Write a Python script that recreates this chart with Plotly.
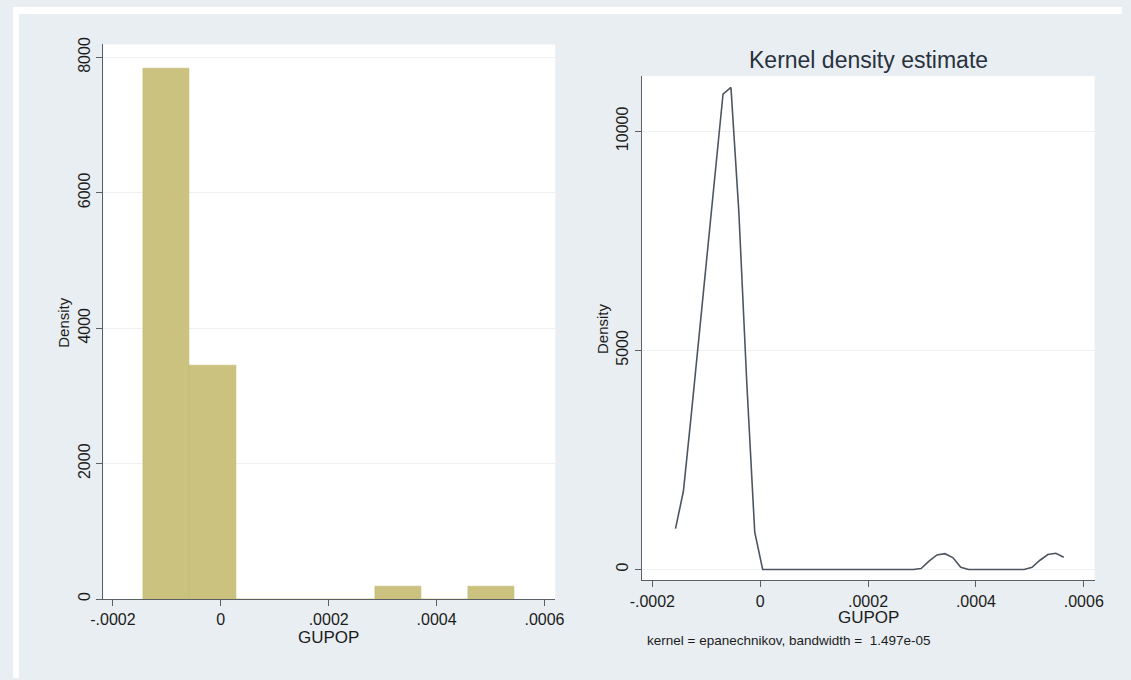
import plotly.graph_objects as go

# Histogram of GUPOP (density scale)
bin_lefts = [-1.44e-4, -0.58e-4, 0.28e-4, 1.14e-4, 2.00e-4, 2.86e-4, 3.72e-4, 4.58e-4]
bin_width = 0.86e-4
bin_density = [7840, 3455, 0, 0, 0, 190, 0, 190]

# Kernel density estimate of GUPOP (epanechnikov, 50 evaluation points)
kde_x = [-1.570e-4, -1.423e-4, -1.276e-4, -1.129e-4, -0.982e-4, -0.835e-4, -0.689e-4,
         -0.542e-4, -0.395e-4, -0.248e-4, -0.101e-4, 0.046e-4, 0.193e-4, 0.340e-4,
         0.487e-4, 0.634e-4, 0.781e-4, 0.927e-4, 1.074e-4, 1.221e-4, 1.368e-4,
         1.515e-4, 1.662e-4, 1.809e-4, 1.956e-4, 2.103e-4, 2.250e-4, 2.397e-4,
         2.544e-4, 2.690e-4, 2.837e-4, 2.984e-4, 3.131e-4, 3.278e-4, 3.425e-4,
         3.572e-4, 3.719e-4, 3.866e-4, 4.013e-4, 4.160e-4, 4.307e-4, 4.453e-4,
         4.600e-4, 4.747e-4, 4.894e-4, 5.041e-4, 5.188e-4, 5.335e-4, 5.482e-4,
         5.629e-4]
kde_y = [930, 1790, 3550, 5400, 7250, 9050, 10850,
         11000, 8150, 4250, 850, 0, 0, 0,
         0, 0, 0, 0, 0, 0, 0,
         0, 0, 0, 0, 0, 0, 0,
         0, 0, 0, 20, 190, 330, 360,
         270, 50, 0, 0, 0, 0, 0,
         0, 0, 0, 50, 210, 340, 370,
         280]

x_ticks = [-0.0002, 0, 0.0002, 0.0004, 0.0006]
x_tick_text = ["-.0002", "0", ".0002", ".0004", ".0006"]
hist_y_ticks = [0, 2000, 4000, 6000, 8000]
hist_y_text = ["0", "2000", "4000", "6000", "8000"]
kde_y_ticks = [0, 5000, 10000]
kde_y_text = ["0", "5000", "10000"]

W, H = 1131, 680
BG = "#e8eef1"
AXIS = "#5b6066"
GRID = "#edf1f3"
TXT = "#1c1c1c"
FONT = "Liberation Sans, Arial, sans-serif"


def px(x):
    return x / W


def py(y):
    return 1 - y / H


fig = go.Figure()

fig.add_trace(go.Bar(
    x=bin_lefts, y=bin_density, width=bin_width, offset=0,
    marker=dict(color="#cbc27f", line=dict(color="#c2b872", width=0.6)),
    xaxis="x", yaxis="y", showlegend=False,
))

fig.add_trace(go.Scatter(
    x=kde_x, y=kde_y, mode="lines",
    line=dict(color="#4d5660", width=1.6),
    xaxis="x2", yaxis="y2", showlegend=False,
))

axis_common = dict(
    showline=True, linecolor=AXIS, linewidth=1,
    ticks="outside", ticklen=6, tickcolor=AXIS, tickwidth=1,
    tickfont=dict(family=FONT, size=16, color=TXT),
    zeroline=False,
)

fig.update_layout(
    width=W, height=H,
    margin=dict(l=0, r=0, t=0, b=0),
    paper_bgcolor=BG, plot_bgcolor="white",
    font=dict(family=FONT, color=TXT),
    bargap=0,
    xaxis=dict(domain=[px(92), px(553)], range=[-2.18e-4, 6.2e-4],
               tickvals=x_ticks, ticktext=x_tick_text, showgrid=False,
               anchor="y", **axis_common),
    yaxis=dict(domain=[py(600), py(38)], range=[0, 8190],
               tickvals=hist_y_ticks, ticktext=hist_y_text, tickangle=-90,
               showgrid=True, gridcolor=GRID, gridwidth=1,
               anchor="x", **axis_common),
    xaxis2=dict(domain=[px(641), px(1103)], range=[-2.2e-4, 6.2e-4],
                tickvals=x_ticks, ticktext=x_tick_text, showgrid=False,
                anchor="y2", **axis_common),
    yaxis2=dict(domain=[py(581), py(70)], range=[-248, 11260],
                tickvals=kde_y_ticks, ticktext=kde_y_text, tickangle=-90,
                showgrid=True, gridcolor=GRID, gridwidth=1,
                anchor="x2", **axis_common),
)

# White margin strips along the top and left edges of the page
fig.add_shape(type="rect", xref="paper", yref="paper",
              x0=0, x1=1, y0=py(7), y1=1, fillcolor="white",
              line=dict(width=0), layer="below")
fig.add_shape(type="rect", xref="paper", yref="paper",
              x0=0, x1=px(6), y0=0, y1=1, fillcolor="white",
              line=dict(width=0), layer="below")

annotations = [
    # histogram panel titles
    dict(text="GUPOP", x=px(322), y=py(639), size=17),
    dict(text="Density", x=px(52), y=py(319), size=15, angle=-90),
    # kernel density panel titles
    dict(text="Kernel density estimate", x=px(872), y=py(54), size=23,
         color="#28323f"),
    dict(text="GUPOP", x=px(872), y=py(619), size=17),
    dict(text="Density", x=px(601), y=py(326), size=15, angle=-90),
]
for a in annotations:
    fig.add_annotation(
        text=a["text"], x=a["x"], y=a["y"], xref="paper", yref="paper",
        xanchor="center", yanchor="middle", showarrow=False,
        textangle=a.get("angle", 0),
        font=dict(family=FONT, size=a["size"], color=a.get("color", TXT)),
    )

fig.add_annotation(
    text="kernel = epanechnikov, bandwidth =  1.497e-05",
    x=px(645), y=py(642), xref="paper", yref="paper",
    xanchor="left", yanchor="middle", showarrow=False,
    font=dict(family=FONT, size=13.5, color=TXT),
)

# Drop the default body margin so the figure sits flush in the window
fig.write_html("out.html", post_script="document.body.style.margin='0';")
